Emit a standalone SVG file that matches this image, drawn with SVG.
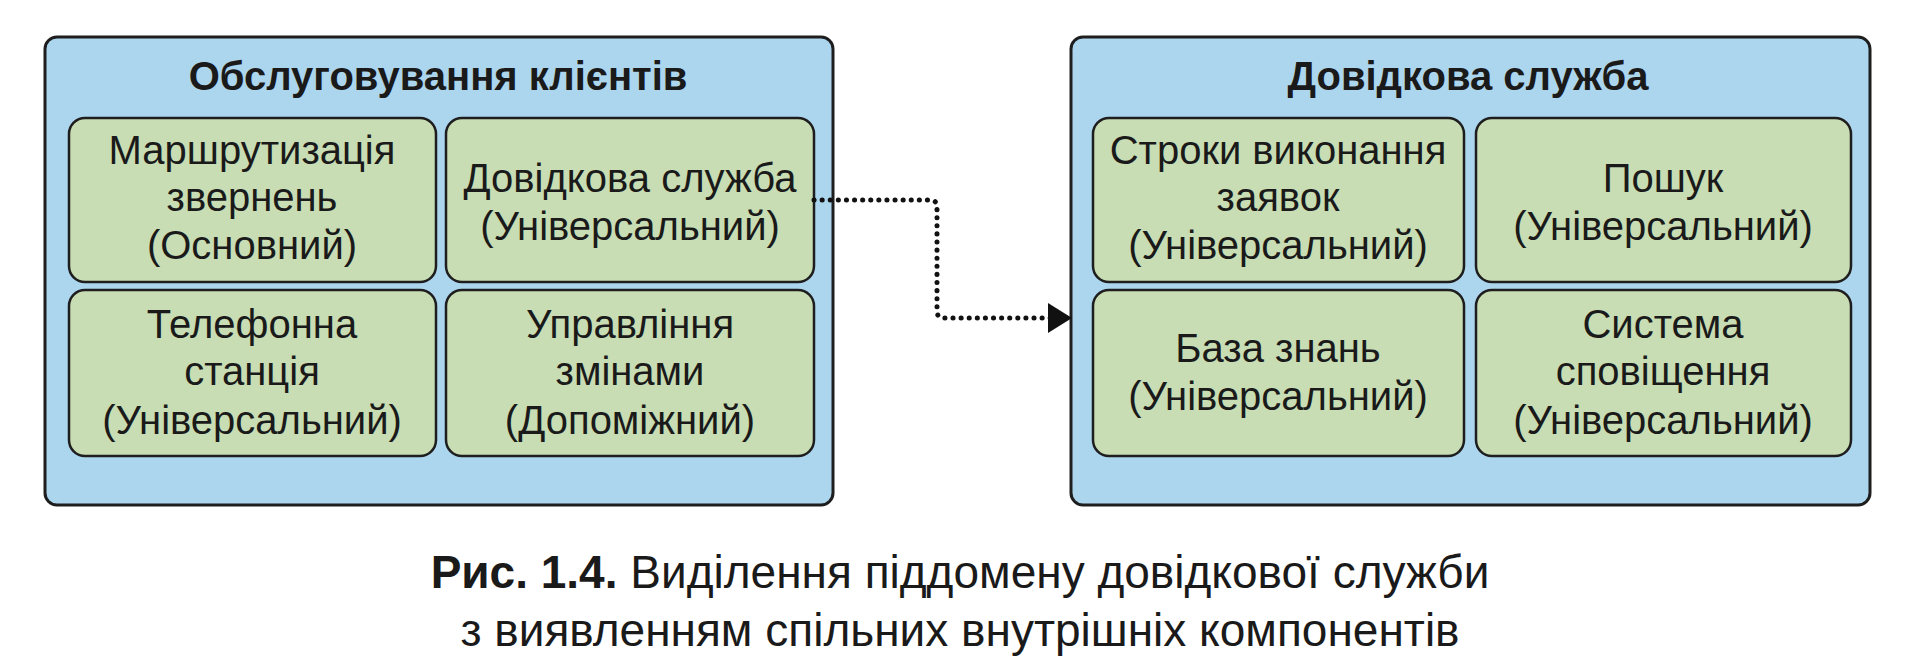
<svg xmlns="http://www.w3.org/2000/svg" width="1920" height="663" viewBox="0 0 1920 663">
<style>
.c{fill:#acd5ee;stroke:#1e1e1e;stroke-width:3}
.b{fill:#c8ddb3;stroke:#1e1e1e;stroke-width:2.5}
text{font-family:"Liberation Sans",Arial,sans-serif;fill:#1a1a1a;text-anchor:middle}
.t{font-size:40px;font-weight:bold}
.n{font-size:40px}
.cap{font-size:46px}
</style>
<defs><marker id="ah" markerWidth="24" markerHeight="30" refX="22" refY="15" orient="auto" markerUnits="userSpaceOnUse" viewBox="0 0 24 30"><path d="M0,0L24,15L0,30z" fill="#111"/></marker></defs>
<rect x="0" y="0" width="1920" height="663" fill="#fff"/>
<g id="left">
<rect class="c" x="45" y="37" width="788" height="468" rx="12"/>
<text class="t" x="438" y="90">Обслуговування клієнтів</text>
</g>
<g id="l1"><rect class="b" x="69" y="118" width="367" height="164" rx="16"/>
<text class="n" x="252" y="164">Маршрутизація</text><text class="n" x="252" y="211">звернень</text><text class="n" x="252" y="259">(Основний)</text></g>
<g id="l2"><rect class="b" x="446" y="118" width="368" height="164" rx="16"/>
<text class="n" x="630" y="192">Довідкова служба</text><text class="n" x="630" y="240">(Універсальний)</text></g>
<g id="l3"><rect class="b" x="69" y="290" width="367" height="166" rx="16"/>
<text class="n" x="252" y="338">Телефонна</text><text class="n" x="252" y="385">станція</text><text class="n" x="252" y="434">(Універсальний)</text></g>
<g id="l4"><rect class="b" x="446" y="290" width="368" height="166" rx="16"/>
<text class="n" x="630" y="338">Управління</text><text class="n" x="630" y="385">змінами</text><text class="n" x="630" y="434">(Допоміжний)</text></g>
<g id="right">
<rect class="c" x="1071" y="37" width="799" height="468" rx="12"/>
<text class="t" x="1468" y="90">Довідкова служба</text>
</g>
<g id="r1"><rect class="b" x="1093" y="118" width="371" height="164" rx="16"/>
<text class="n" x="1278" y="164">Строки виконання</text><text class="n" x="1278" y="211">заявок</text><text class="n" x="1278" y="259">(Універсальний)</text></g>
<g id="r2"><rect class="b" x="1476" y="118" width="375" height="164" rx="16"/>
<text class="n" x="1663" y="192">Пошук</text><text class="n" x="1663" y="240">(Універсальний)</text></g>
<g id="r3"><rect class="b" x="1093" y="290" width="371" height="166" rx="16"/>
<text class="n" x="1278" y="362">База знань</text><text class="n" x="1278" y="410">(Універсальний)</text></g>
<g id="r4"><rect class="b" x="1476" y="290" width="375" height="166" rx="16"/>
<text class="n" x="1663" y="338">Система</text><text class="n" x="1663" y="385">сповіщення</text><text class="n" x="1663" y="434">(Універсальний)</text></g>
<g id="connectors">
<path d="M814,200H930Q937,200 937,207V311Q937,318 944,318H1070" fill="none" stroke="#111" stroke-width="5" stroke-linecap="round" stroke-dasharray="0.1,8" marker-end="url(#ah)"/>
</g>
<text class="cap" x="960" y="588"><tspan font-weight="bold">Рис. 1.4.</tspan> Виділення піддомену довідкової служби</text>
<text class="cap" x="960" y="646">з виявленням спільних внутрішніх компонентів</text>
</svg>
